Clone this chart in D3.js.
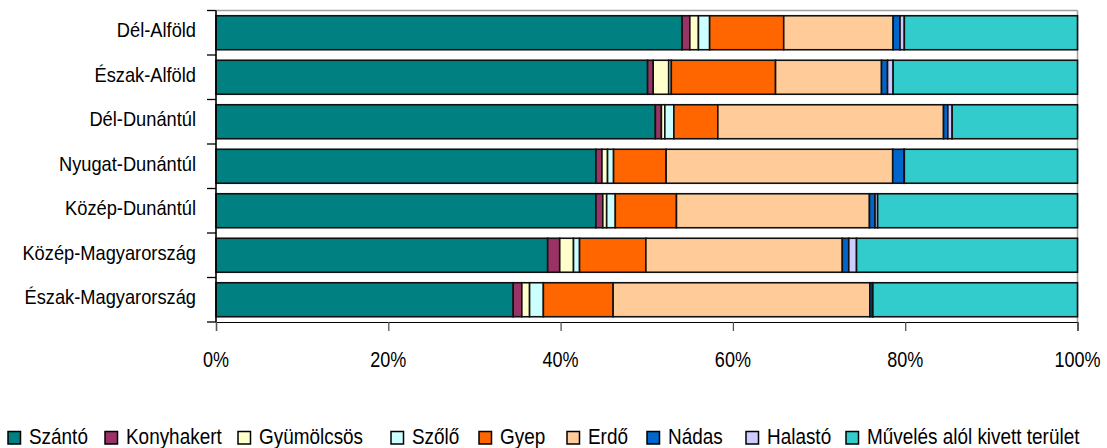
<!DOCTYPE html>
<html><head><meta charset="utf-8">
<script src="https://cdn.jsdelivr.net/npm/d3@7"></script>
<style>body{margin:0;background:#fff}svg{display:block}text{font-family:"Liberation Sans",Arial,sans-serif;fill:#000}</style>
</head><body>
<svg id="c" width="1107" height="448"></svg>
<script>
const categories = ["Dél-Alföld","Észak-Alföld","Dél-Dunántúl","Nyugat-Dunántúl","Közép-Dunántúl","Közép-Magyarország","Észak-Magyarország"];
const seriesNames = ["Szántó","Konyhakert","Gyümölcsös","Szőlő","Gyep","Erdő","Nádas","Halastó","Művelés alól kivett terület"];
const szanto      = [54.1, 50.1, 51.0, 44.1, 44.1, 38.5, 34.5];
const konyhakert  = [0.9, 0.65, 0.7, 0.7, 0.8, 1.4, 1.0];
const gyumolcsos  = [1.0, 1.8, 0.4, 0.65, 0.45, 1.6, 0.9];
const szolo       = [1.3, 0.3, 1.05, 0.7, 1.0, 0.7, 1.6];
const gyep        = [8.6, 12.1, 5.1, 6.1, 7.1, 7.7, 8.1];
const erdo        = [12.7, 12.3, 26.2, 26.3, 22.4, 22.8, 29.8];
const nadas       = [0.8, 0.7, 0.5, 1.3, 0.65, 0.75, 0.3];
const halasto     = [0.5, 0.65, 0.5, 0.05, 0.3, 0.9, 0.05];
const kivett      = [20.1, 21.4, 14.55, 20.1, 23.2, 25.65, 23.75];
const tickLabels  = ["0%","20%","40%","60%","80%","100%"];
const colors = ["#008080","#993366","#FFFFCC","#CCFFFF","#FF6600","#FFCC99","#0066CC","#CCCCFF","#33CCCC"];

const seriesValues = [szanto,konyhakert,gyumolcsos,szolo,gyep,erdo,nadas,halasto,kivett];
const rows = categories.map((c,i)=>{const o={cat:c};seriesNames.forEach((s,j)=>o[s]=seriesValues[j][i]);return o;});
const stack = d3.stack().keys(seriesNames).offset(d3.stackOffsetExpand)(rows);

const svg = d3.select("#c");
const L=216, R=1077.5, T=10.5, B=322;
const x = d3.scaleLinear().domain([0,1]).range([L,R]);
const y = d3.scaleBand().domain(categories).range([T,B]).paddingInner(0.236).paddingOuter(0.118);

// plot border top/right
svg.append("line").attr("x1",L).attr("x2",R).attr("y1",T).attr("y2",T).attr("stroke","#a0a0a0").attr("stroke-width",1.5);
svg.append("line").attr("x1",R).attr("x2",R).attr("y1",T).attr("y2",B).attr("stroke","#a0a0a0").attr("stroke-width",1.5);

// bars
const g = svg.append("g");
stack.forEach((s,j)=>{
  g.selectAll(null).data(s).enter().append("rect")
    .attr("x",d=>x(d[0])).attr("width",d=>Math.max(0,x(d[1])-x(d[0])))
    .attr("y",d=>y(d.data.cat)).attr("height",y.bandwidth())
    .attr("fill",colors[j]).attr("stroke","#111").attr("stroke-width",1.6);
});

// x axis
const xAxis = svg.append("g").attr("transform",`translate(0,${B})`)
  .call(d3.axisBottom(x).tickValues(d3.range(0,1.0001,0.2)).tickSize(9).tickFormat(""));
xAxis.select(".domain").attr("stroke","#000").attr("stroke-width",1.2);
xAxis.selectAll(".tick line").attr("stroke","#555").attr("stroke-width",1.3);
const tv = d3.range(0,1.0001,0.2);
tv.forEach((v,i)=>{
  svg.append("text").attr("transform",`translate(${x(v)},367) scale(0.82,1)`)
    .attr("text-anchor","middle").style("font-size","22px").text(tickLabels[i]);
});

// y axis
const ya = svg.append("g").attr("transform",`translate(${L},0)`);
ya.append("line").attr("x1",0).attr("x2",0).attr("y1",T).attr("y2",B).attr("stroke","#000").attr("stroke-width",1.6);
const step = y.step();
d3.range(0,categories.length+1).forEach(i=>{
  const yy = T + i*step;
  ya.append("line").attr("x1",-9).attr("x2",0).attr("y1",yy).attr("y2",yy).attr("stroke","#000").attr("stroke-width",1.3);
});
categories.forEach(c=>{
  svg.append("text").attr("transform",`translate(196,${y(c)+y.bandwidth()/2+4.5}) scale(0.87,1)`)
    .attr("text-anchor","end").style("font-size","21px").text(c);
});

// legend
const legendX = [8,105,238,391,479,567,647,746,846];
const lg = svg.append("g");
seriesNames.forEach((s,j)=>{
  const lx = legendX[j];
  lg.append("rect").attr("x",lx).attr("y",431.5).attr("width",12.5).attr("height",12.5)
    .attr("fill",colors[j]).attr("stroke","#000").attr("stroke-width",1.5);
  lg.append("text").attr("transform",`translate(${lx+21},443.5) scale(0.88,1)`)
    .style("font-size","21.5px").text(s);
});
</script>
</body></html>
